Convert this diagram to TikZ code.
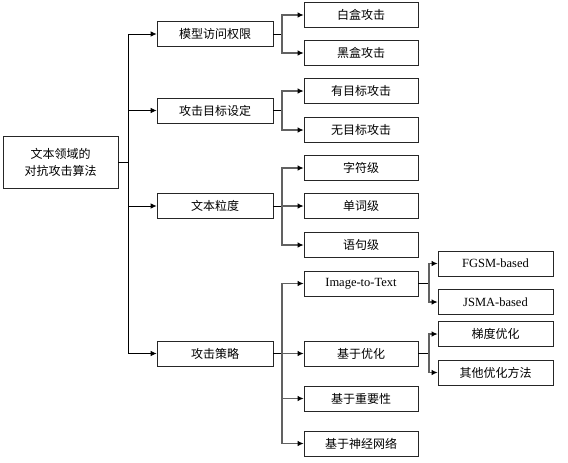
\documentclass[tikz,border=0pt]{standalone}
\usepackage{fontspec}
\setmainfont{Liberation Serif}
\newfontfamily\cjk{Noto Sans CJK SC}
\usetikzlibrary{arrows.meta}
\begin{document}
\begin{tikzpicture}[x=1pt,y=-1pt,
  box/.style={draw=black!85,line width=0.7pt,minimum height=25pt,inner sep=0pt,font=\fontsize{12}{14}\selectfont\cjk,fill=white},
  l1/.style={box,minimum width=116pt},
  l2/.style={box,minimum width=114pt},
  l3/.style={box,minimum width=115pt},
  en/.style={font=\fontsize{12.5}{14}\selectfont\rmfamily},
  blk/.style={draw=black,line width=0.8pt},
  gry/.style={draw=black!62,line width=1.1pt},
  arr/.style={-{Latex[length=6pt,width=5.5pt,color=black]}}
]
\useasboundingbox (0,0) rectangle (568,463);
% root
\node[box,minimum width=115pt,minimum height=52pt,align=center,font=\fontsize{12}{17}\selectfont\cjk] (root) at (60.5,162) {文本领域的\\对抗攻击算法};
% level 1
\node[l1] (a) at (215,34) {模型访问权限};
\node[l1] (b) at (215,110.5) {攻击目标设定};
\node[l1] (c) at (215,206) {文本粒度};
\node[l1] (d) at (215,353.5) {攻击策略};
% level 2
\node[l2] (a1) at (361,15) {白盒攻击};
\node[l2] (a2) at (361,53) {黑盒攻击};
\node[l2] (b1) at (361,91) {有目标攻击};
\node[l2] (b2) at (361,130) {无目标攻击};
\node[l2] (c1) at (361,168) {字符级};
\node[l2] (c2) at (361,206) {单词级};
\node[l2] (c3) at (361,245) {语句级};
\node[l2,en] (d1) at (361,283.5) {Image-to-Text};
\node[l2] (d2) at (361,353.5) {基于优化};
\node[l2] (d3) at (361,398.5) {基于重要性};
\node[l2] (d4) at (361,443.5) {基于神经网络};
% level 3
\node[l3,en] (e1) at (495.5,263.5) {FGSM-based};
\node[l3,en] (e2) at (495.5,302) {JSMA-based};
\node[l3] (f1) at (495.5,334) {梯度优化};
\node[l3] (f2) at (495.5,372.5) {其他优化方法};
% trunk
\coordinate (t) at (128,162);
\draw[blk] (root.east) -- (t);
\draw[blk] (t |- a.west) -- (t |- d.west);
\foreach \n in {a,b,c,d} \draw[blk,arr] (t |- \n.west) -- (\n.west);
% level 1 -> level 2
\foreach \p/\kids in {a/{a1,a2},b/{b1,b2},c/{c1,c2,c3},d/{d1,d2,d3,d4}} {
  \coordinate (bp) at (282,0);
  \draw[blk] (\p.east) -- (bp |- \p.east);
  \foreach \k in \kids \draw[gry,arr] (bp |- \p.east) |- (\k.west);
}
% level 2 -> level 3
\foreach \p/\kids in {d1/{e1,e2},d2/{f1,f2}} {
  \coordinate (bq) at (429,0);
  \draw[blk] (\p.east) -- (bq |- \p.east);
  \foreach \k in \kids \draw[gry,arr] (bq |- \p.east) |- (\k.west);
}
\end{tikzpicture}
\end{document}
